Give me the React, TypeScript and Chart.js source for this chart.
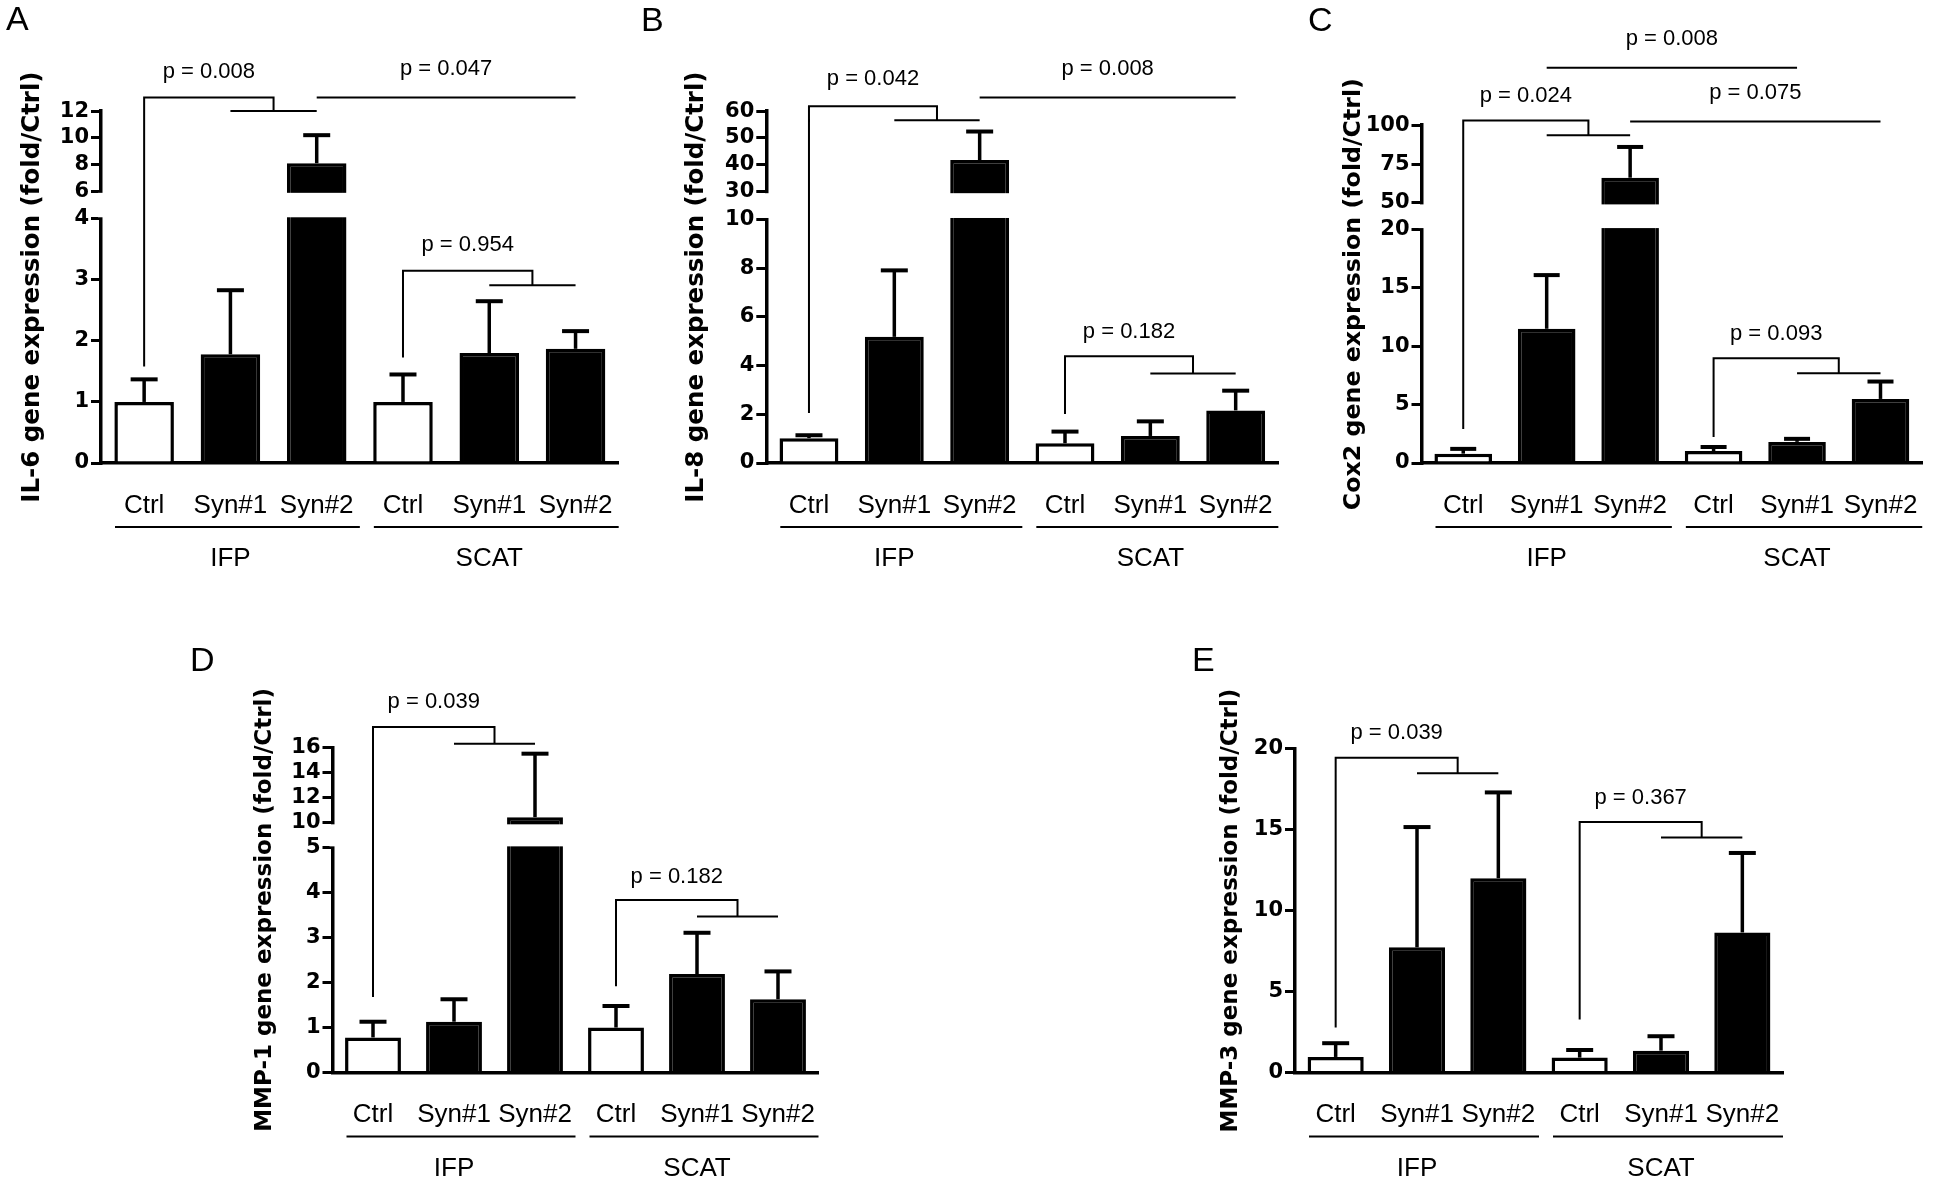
import React, { useEffect, useRef } from 'react';
import { Chart, registerables, LinearScale } from 'chart.js';

// ---------- data ----------
const categories = ['Ctrl', 'Syn#1', 'Syn#2', 'Ctrl', 'Syn#1', 'Syn#2'];
const groupLabels = ['IFP', 'SCAT'];
const groupSpans = [[0, 2], [3, 5]];

const il6Title = 'IL-6 gene expression (fold/Ctrl)';
const il6Mean = [1.0, 1.78, 8.1, 1.0, 1.8, 1.87];
const il6Sd = [0.37, 1.05, 2.1, 0.45, 0.85, 0.29];
const il6Ticks = [0, 1, 2, 3, 4, 6, 8, 10, 12];
const il6Break = [4, 6];
const il6Brackets = [
  { kind: 'fork', from: 0, to: [1, 2], start: 1.58, top: 13.02, end: 12.0, label: 'p = 0.008', labelAt: 14.92 },
  { kind: 'span', from: 2, to: 5, top: 13.02, label: 'p = 0.047', labelAt: 15.18 },
  { kind: 'fork', from: 3, to: [4, 5], start: 1.73, top: 3.15, end: 2.91, label: 'p = 0.954', labelAt: 3.57 },
];

const il8Title = 'IL-8 gene expression (fold/Ctrl)';
const il8Mean = [1.02, 5.18, 41.8, 0.81, 1.11, 2.16];
const il8Sd = [0.12, 2.73, 10.6, 0.48, 0.6, 0.81];
const il8Ticks = [0, 2, 4, 6, 8, 10, 30, 40, 50, 60];
const il8Break = [10, 30];
const il8Brackets = [
  { kind: 'fork', from: 0, to: [1, 2], start: 2.05, top: 61.8, end: 56.6, label: 'p = 0.042', labelAt: 72.1 },
  { kind: 'span', from: 2, to: 5, top: 65.1, label: 'p = 0.008', labelAt: 75.8 },
  { kind: 'fork', from: 3, to: [4, 5], start: 2.01, top: 4.38, end: 3.68, label: 'p = 0.182', labelAt: 5.4 },
];

const cox2Title = 'Cox2 gene expression (fold/Ctrl)';
const cox2Mean = [0.8, 11.5, 66.2, 1.02, 1.81, 5.49];
const cox2Sd = [0.41, 4.6, 19.8, 0.35, 0.26, 1.49];
const cox2Ticks = [0, 5, 10, 15, 20, 50, 75, 100];
const cox2Break = [20, 50];
const cox2Brackets = [
  { kind: 'fork', from: 0, to: [1, 2], start: 2.92, top: 103.1, end: 93.6, label: 'p = 0.024', labelAt: 119.0 },
  { kind: 'span', from: 2, to: 5, top: 102.4, label: 'p = 0.075', labelAt: 120.5 },
  { kind: 'span', from: 1, to: 4, top: 136.9, label: 'p = 0.008', labelAt: 155.5 },
  { kind: 'fork', from: 3, to: [4, 5], start: 2.23, top: 8.98, end: 7.69, label: 'p = 0.093', labelAt: 11.1 },
];

const mmp1Title = 'MMP-1 gene expression (fold/Ctrl)';
const mmp1Mean = [0.78, 1.13, 10.45, 1.0, 2.19, 1.63];
const mmp1Sd = [0.35, 0.5, 5.05, 0.48, 0.92, 0.62];
const mmp1Ticks = [0, 1, 2, 3, 4, 5, 10, 12, 14, 16];
const mmp1Break = [5, 10];
const mmp1Brackets = [
  { kind: 'fork', from: 0, to: [1, 2], start: 1.68, top: 17.63, end: 16.29, label: 'p = 0.039', labelAt: 19.58 },
  { kind: 'fork', from: 3, to: [4, 5], start: 1.92, top: 3.84, end: 3.47, label: 'p = 0.182', labelAt: 4.35 },
];

const mmp3Title = 'MMP-3 gene expression (fold/Ctrl)';
const mmp3Mean = [0.96, 7.73, 12.0, 0.92, 1.35, 8.65];
const mmp3Sd = [0.85, 7.43, 5.3, 0.47, 0.89, 4.91];
const mmp3Ticks = [0, 5, 10, 15, 20];
const mmp3Break = null;
const mmp3Brackets = [
  { kind: 'fork', from: 0, to: [1, 2], start: 2.78, top: 19.44, end: 18.48, label: 'p = 0.039', labelAt: 20.98 },
  { kind: 'fork', from: 3, to: [4, 5], start: 3.27, top: 15.48, end: 14.52, label: 'p = 0.367', labelAt: 16.98 },
];

// ---------- panels (data refs + layout/style) ----------
const PANELS = [
  {
    letter: 'A', title: il6Title, mean: il6Mean, sd: il6Sd, ticks: il6Ticks, brk: il6Break, brackets: il6Brackets,
    layout: { left: 0, top: 0, w: 640, h: 590, yAxisW: 101, padTop: 111.1, padRight: 7, xAxisH: 127, titleSize: 24.5, titlePad: 18, lowFrac: 0.694, gapFrac: 0.078, letterX: 6, letterY: 30, capW: 27 },
  },
  {
    letter: 'B', title: il8Title, mean: il8Mean, sd: il8Sd, ticks: il8Ticks, brk: il8Break, brackets: il8Brackets,
    layout: { left: 640, top: 0, w: 660, h: 590, yAxisW: 126.3, padTop: 111.1, padRight: 5.5, xAxisH: 127, titleSize: 24.5, titlePad: 42.3, lowFrac: 0.692, gapFrac: 0.079, letterX: 1, letterY: 31, capW: 27 },
  },
  {
    letter: 'C', title: cox2Title, mean: cox2Mean, sd: cox2Sd, ticks: cox2Ticks, brk: cox2Break, brackets: cox2Brackets,
    layout: { left: 1300, top: 0, w: 646, h: 590, yAxisW: 121.5, padTop: 125.2, padRight: 19.7, xAxisH: 127, titleSize: 23.7, titlePad: 39.5, lowFrac: 0.691, gapFrac: 0.079, letterX: 8, letterY: 31, capW: 26 },
  },
  {
    letter: 'D', title: mmp1Title, mean: mmp1Mean, sd: mmp1Sd, ticks: mmp1Ticks, brk: mmp1Break, brackets: mmp1Brackets,
    layout: { left: 150, top: 620, w: 700, h: 562, yAxisW: 182.5, padTop: 127.4, padRight: 31.5, xAxisH: 109.5, titleSize: 23, titlePad: 101.7, lowFrac: 0.691, gapFrac: 0.077, letterX: 40, letterY: 51, capW: 27 },
  },
  {
    letter: 'E', title: mmp3Title, mean: mmp3Mean, sd: mmp3Sd, ticks: mmp3Ticks, brk: mmp3Break, brackets: mmp3Brackets,
    layout: { left: 1150, top: 620, w: 796, h: 562, yAxisW: 145, padTop: 128.7, padRight: 163, xAxisH: 109.5, titleSize: 23, titlePad: 67.7, lowFrac: 0, gapFrac: 0, letterX: 42, letterY: 51, capW: 27 },
  },
];

// ---------- broken linear scale ----------
class BrokenLinearScale extends LinearScale {
  static id = 'brokenLinear';
  static defaults = {};
  frac(v: number) {
    const b = (this as any).$brk;
    const min = this.min, max = this.max;
    if (!b) return (v - min) / (max - min);
    const up = 1 - b.lowFrac - b.gapFrac;
    if (v <= b.low) return ((v - min) / (b.low - min)) * b.lowFrac;
    if (v < b.high) return b.lowFrac + ((v - b.low) / (b.high - b.low)) * b.gapFrac;
    return b.lowFrac + b.gapFrac + ((v - b.high) / (max - b.high)) * up;
  }
  getPixelForValue(v: any) {
    if (v === null || v === undefined || isNaN(v)) return NaN;
    return this.bottom - this.frac(+v) * (this.bottom - this.top);
  }
  getValueForPixel(p: number) {
    const f = (this.bottom - p) / (this.bottom - this.top);
    const b = (this as any).$brk;
    const min = this.min, max = this.max;
    if (!b) return min + f * (max - min);
    const up = 1 - b.lowFrac - b.gapFrac;
    if (f <= b.lowFrac) return min + (f / b.lowFrac) * (b.low - min);
    if (f < b.lowFrac + b.gapFrac) return b.low + ((f - b.lowFrac) / b.gapFrac) * (b.high - b.low);
    return b.high + ((f - b.lowFrac - b.gapFrac) / up) * (max - b.high);
  }
}

Chart.register(...registerables, BrokenLinearScale);

const SANS = '"Liberation Sans", Arial, Helvetica, sans-serif';
const BOLD = '"DejaVu Sans", Verdana, sans-serif';

function Panel({ p }: { p: any }) {
  const ref = useRef<HTMLCanvasElement | null>(null);
  const L = p.layout;
  useEffect(() => {
    if (!ref.current) return;
    const brk = p.brk ? { low: p.brk[0], high: p.brk[1], lowFrac: L.lowFrac, gapFrac: L.gapFrac } : null;
    const maxVal = p.ticks[p.ticks.length - 1];

    const extras = {
      id: 'panelExtras',
      afterDatasetsDraw(chart: any) {
        const { ctx, chartArea } = chart;
        const x = chart.scales.x;
        const y = chart.scales.y;
        ctx.save();
        // axis / bar break
        if (brk) {
          const pHigh = y.getPixelForValue(brk.high);
          const pLow = y.getPixelForValue(brk.low);
          ctx.fillStyle = '#fff';
          ctx.fillRect(chartArea.left - 3, pHigh + 1.5, chartArea.right - chartArea.left + 8, pLow - pHigh - 3);
        }
        ctx.strokeStyle = '#000';
        ctx.fillStyle = '#000';
        ctx.lineCap = 'butt';
        // error bars (upper only)
        p.mean.forEach((m: number, i: number) => {
          const cx = x.getPixelForValue(i);
          const y0 = y.getPixelForValue(m);
          const y1 = y.getPixelForValue(m + p.sd[i]);
          ctx.lineWidth = 3.5;
          ctx.beginPath();
          ctx.moveTo(cx, y0);
          ctx.lineTo(cx, y1);
          ctx.stroke();
          ctx.lineWidth = 4;
          ctx.beginPath();
          ctx.moveTo(cx - L.capW / 2, y1);
          ctx.lineTo(cx + L.capW / 2, y1);
          ctx.stroke();
        });
        // significance brackets
        ctx.lineWidth = 2;
        ctx.lineJoin = 'miter';
        ctx.font = `22px ${SANS}`;
        ctx.textAlign = 'center';
        ctx.textBaseline = 'middle';
        p.brackets.forEach((b: any) => {
          if (b.kind === 'fork') {
            const lx = x.getPixelForValue(b.from);
            const ax = x.getPixelForValue(b.to[0]);
            const bx = x.getPixelForValue(b.to[1]);
            const jx = (ax + bx) / 2;
            const yt = y.getPixelForValue(b.top);
            const ye = y.getPixelForValue(b.end);
            ctx.beginPath();
            ctx.moveTo(lx, y.getPixelForValue(b.start));
            ctx.lineTo(lx, yt);
            ctx.lineTo(jx, yt);
            ctx.lineTo(jx, ye);
            ctx.moveTo(ax, ye);
            ctx.lineTo(bx, ye);
            ctx.stroke();
            ctx.fillText(b.label, (lx + jx) / 2, y.getPixelForValue(b.labelAt));
          } else {
            const ax = x.getPixelForValue(b.from);
            const bx = x.getPixelForValue(b.to);
            const yt = y.getPixelForValue(b.top);
            ctx.beginPath();
            ctx.moveTo(ax, yt);
            ctx.lineTo(bx, yt);
            ctx.stroke();
            ctx.fillText(b.label, (ax + bx) / 2, y.getPixelForValue(b.labelAt));
          }
        });
        // group underlines and labels
        const catW = x.getPixelForValue(1) - x.getPixelForValue(0);
        ctx.font = `26px ${SANS}`;
        groupSpans.forEach((span, g) => {
          const x1 = x.getPixelForValue(span[0]) - catW / 2 + 14;
          const x2 = x.getPixelForValue(span[1]) + catW / 2;
          const yl = chartArea.bottom + 64;
          ctx.lineWidth = 2;
          ctx.beginPath();
          ctx.moveTo(x1, yl);
          ctx.lineTo(x2, yl);
          ctx.stroke();
          const mid = (x.getPixelForValue(span[0]) + x.getPixelForValue(span[1])) / 2;
          ctx.fillText(groupLabels[g], mid, chartArea.bottom + 96);
        });
        // panel letter
        ctx.font = `34px ${SANS}`;
        ctx.textAlign = 'left';
        ctx.textBaseline = 'alphabetic';
        ctx.fillText(p.letter, L.letterX, L.letterY);
        ctx.restore();
      },
    };

    const chart = new Chart(ref.current, {
      type: 'bar',
      data: {
        labels: categories,
        datasets: [
          {
            data: p.mean,
            backgroundColor: categories.map((c) => (c === 'Ctrl' ? '#ffffff' : '#000000')),
            borderColor: '#000000',
            borderWidth: 3.5,
            barPercentage: 0.69,
            categoryPercentage: 1,
          },
        ],
      },
      options: {
        responsive: false,
        animation: false,
        devicePixelRatio: 1,
        layout: { padding: { left: 0, top: L.padTop, right: L.padRight, bottom: 0 } },
        plugins: { legend: { display: false }, tooltip: { enabled: false }, title: { display: false } },
        scales: {
          x: {
            type: 'category',
            offset: true,
            grid: { display: false, drawTicks: false },
            border: { display: true, color: '#000', width: 3.5 },
            ticks: {
              color: '#000',
              font: { family: SANS, size: 26, lineHeight: 1.2 },
              padding: 27,
              maxRotation: 0,
              autoSkip: false,
            },
            afterFit: (s: any) => {
              s.height = L.xAxisH;
            },
          },
          y: {
            type: 'brokenLinear',
            min: 0,
            max: maxVal,
            bounds: 'data',
            afterDataLimits: (s: any) => {
              s.$brk = brk;
            },
            afterBuildTicks: (s: any) => {
              s.ticks = p.ticks.map((v: number) => ({ value: v }));
            },
            grid: {
              display: true,
              drawOnChartArea: false,
              drawTicks: true,
              tickLength: 10,
              tickWidth: 3,
              tickColor: '#000',
              lineWidth: 3,
              color: '#000',
            },
            border: { display: true, color: '#000', width: 3.5 },
            ticks: {
              color: '#000',
              font: { family: BOLD, size: 21, weight: 'bold' },
              padding: 2,
              autoSkip: false,
              callback: (v: any) => String(v),
            },
            title: {
              display: true,
              text: p.title,
              color: '#000',
              font: { family: BOLD, size: L.titleSize, weight: 'bold', lineHeight: 1.2 },
              padding: { top: L.titlePad, bottom: 0 },
            },
            afterFit: (s: any) => {
              s.width = L.yAxisW;
            },
          },
        },
      } as any,
      plugins: [extras],
    } as any);
    return () => chart.destroy();
  }, [p]);
  return (
    <canvas
      ref={ref}
      width={L.w}
      height={L.h}
      style={{ position: 'absolute', left: L.left, top: L.top, width: L.w, height: L.h }}
    />
  );
}

export default function App() {
  return (
    <div
      style={{
        position: 'fixed',
        left: 0,
        top: 0,
        width: 1946,
        height: 1182,
        background: '#ffffff',
        overflow: 'hidden',
      }}
    >
      {PANELS.map((p) => (
        <Panel key={p.letter} p={p} />
      ))}
    </div>
  );
}
